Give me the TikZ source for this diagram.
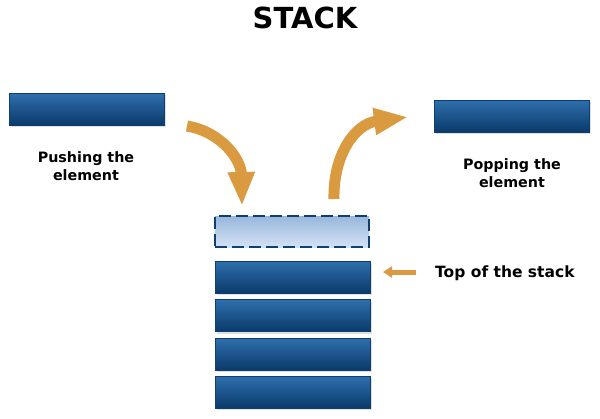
\documentclass[tikz,border=0pt]{standalone}
\usepackage{fontspec}
\setmainfont{DejaVu Sans}
\usetikzlibrary{arrows.meta,shadows}
\definecolor{boxtop}{HTML}{2F6FAE}
\definecolor{boxbot}{HTML}{0A3A6A}
\definecolor{boxedge}{HTML}{0D3F70}
\definecolor{ghosttop}{HTML}{98B6DC}
\definecolor{ghostbot}{HTML}{D3E2F4}
\definecolor{arroworange}{HTML}{D99A40}
\tikzset{
  elem/.style={minimum width=155pt, minimum height=32pt, inner sep=0pt,
    top color=boxtop, bottom color=boxbot, draw=boxedge, line width=0.5pt,
    drop shadow={opacity=0.25, shadow xshift=1.5pt, shadow yshift=-2pt}},
  ghost/.style={minimum width=154pt, minimum height=31pt, inner sep=0pt,
    top color=ghosttop, bottom color=ghostbot, draw=boxedge, line width=2.6pt,
    dash pattern=on 12pt off 5pt},
  lbl/.style={font=\bfseries\fontsize{14.3}{18}\selectfont, align=center, inner sep=0pt},
  bigarrow/.style={draw=arroworange, line width=11pt, line cap=butt,
    -{Triangle[width=25pt,length=34pt]}},
  smallarrow/.style={draw=arroworange, line width=5pt,
    -{Triangle[width=11pt,length=9pt]}}
}
\begin{document}
\begin{tikzpicture}[x=1pt,y=-1pt]
\useasboundingbox (0,0) rectangle (600,418);
\node[font=\bfseries\fontsize{29}{32}\selectfont, inner sep=0pt] (title) at (305,18) {STACK};
% left element and label
\node[elem] (push) at (86.5,109) {};
\node[lbl] (pushlbl) at (86,166) {Pushing the\\element};
% right element and label
\node[elem] (pop) at (511.5,116) {};
\node[lbl] (poplbl) at (512,173) {Popping the\\element};
% stack
\node[ghost] (slot) at (292,231.5) {};
\node[elem] (s1) at (292.5,277) {};
\node[elem] (s2) at (292.5,315.5) {};
\node[elem] (s3) at (292.5,354) {};
\node[elem] (s4) at (292.5,392) {};
% label for top
\node[lbl, font=\bfseries\fontsize{15.5}{18}\selectfont, anchor=west] (toplbl) at (435,273) {Top of the stack};
% arrow coordinates
\coordinate (pushstart) at (187,126);
\coordinate (pushend) at (242,206);
\coordinate (popstart) at (334,199);
\coordinate (popend) at (408,117);
\coordinate (topstart) at (416,272);
\coordinate (topend) at (383,272);
\draw[bigarrow] (pushstart) .. controls (222,132) and (241,160) .. (pushend);
\draw[bigarrow] (popstart) .. controls (333,155) and (355,124) .. (popend);
\draw[smallarrow] (topstart) -- (topend);
\end{tikzpicture}
\end{document}
